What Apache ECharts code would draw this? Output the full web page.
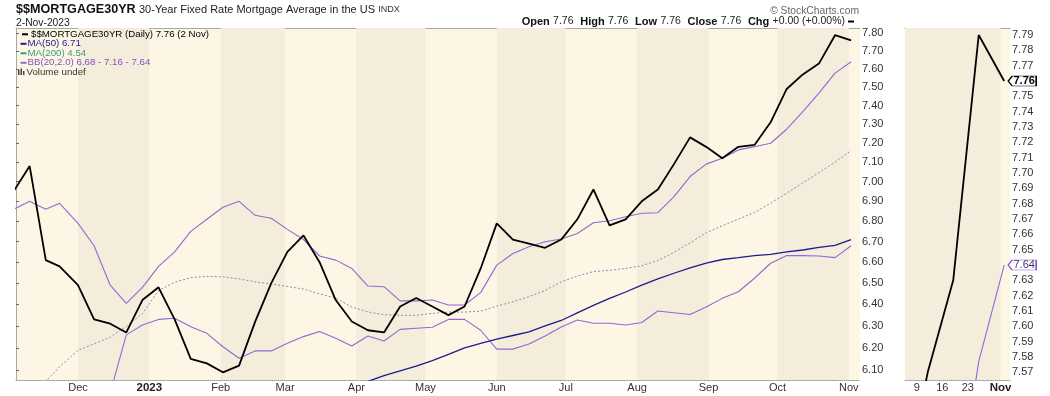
<!DOCTYPE html>
<html><head><meta charset="utf-8">
<script src="https://cdn.jsdelivr.net/npm/echarts@6/dist/echarts.min.js"></script>
<style>html,body{margin:0;padding:0;background:#fff}#c{width:1050px;height:396px}</style>
</head><body><div id="c"></div>
<script>
// ---------- data (weekly readings) ----------
const dates = ['2022-11-03','2022-11-10','2022-11-17','2022-11-23','2022-12-01','2022-12-08','2022-12-15','2022-12-22','2022-12-29',
 '2023-01-05','2023-01-12','2023-01-19','2023-01-26','2023-02-02','2023-02-09','2023-02-16','2023-02-23',
 '2023-03-02','2023-03-09','2023-03-16','2023-03-23','2023-03-30','2023-04-06','2023-04-13','2023-04-20','2023-04-27',
 '2023-05-04','2023-05-11','2023-05-18','2023-05-25','2023-06-01','2023-06-08','2023-06-15','2023-06-22','2023-06-29',
 '2023-07-06','2023-07-13','2023-07-20','2023-07-27','2023-08-03','2023-08-10','2023-08-17','2023-08-24','2023-08-31',
 '2023-09-07','2023-09-14','2023-09-21','2023-09-28','2023-10-05','2023-10-12','2023-10-19','2023-10-26','2023-11-02'];
const close = [6.95,7.08,6.61,6.58,6.49,6.33,6.31,6.27,6.42,
 6.48,6.33,6.15,6.13, 6.09,6.12,6.32,6.50, 6.65,6.73,6.60,6.42,6.32, 6.28,6.27,6.39,6.43,
 6.39,6.35,6.39,6.57, 6.79,6.71,6.69,6.67,6.71, 6.81,6.96,6.78,6.81, 6.90,6.96,7.09,7.23,7.18,
 7.12,7.18,7.19,7.31, 7.49,7.57,7.63,7.79, 7.76];
const ma50 = [null,null,null,null,null,null,null,null,null, null,null,null,null, null,null,null,null, null,null,
 5.96,5.99,6.02, 6.05,6.075,6.097,6.118, 6.142,6.17,6.20,6.22, 6.239,6.256,6.273,6.30,6.325,
 6.36,6.395,6.428,6.458, 6.49,6.52,6.547,6.573,6.596, 6.613,6.622,6.632,6.638, 6.650,6.659,6.672,6.682, 6.71];
const bbUpper = [6.86,6.90,6.86,6.89,6.79,6.68,6.49,6.405,6.48,
 6.58,6.65,6.75,6.81, 6.87,6.90,6.83,6.815, 6.76,6.71,6.63,6.61,6.57, 6.486,6.483,6.416,6.416,
 6.42,6.397,6.397,6.455, 6.586,6.642,6.675,6.699,6.713, 6.74,6.793,6.803,6.823, 6.840,6.843,6.924,7.026,7.090,
 7.120,7.164,7.181,7.199, 7.273,7.367,7.467,7.577, 7.64];
const bbMid = [5.91,5.98,6.05,6.115,6.189,6.218,6.248,6.298,6.357,
 6.465,6.504,6.526,6.532, 6.530,6.520,6.506,6.496, 6.484,6.472,6.449,6.429,6.387, 6.365,6.352,6.349,6.349,
 6.358,6.364,6.364,6.368, 6.392,6.412,6.436,6.465,6.506, 6.534,6.555,6.561,6.570, 6.583,6.608,6.648,6.694,6.743,
 6.778,6.811,6.844,6.891, 6.941,6.994,7.046,7.100, 7.16];
const bbLower = [4.96,5.06,5.24,5.34,5.59,5.75,6.00,6.259,6.304,
 6.330,6.335,6.296,6.266, 6.205,6.153,6.186,6.186, 6.221,6.251,6.274,6.244,6.208, 6.254,6.231,6.284,6.289,
 6.294,6.330,6.330,6.280, 6.194,6.194,6.217,6.254,6.295, 6.327,6.312,6.312,6.304, 6.316,6.369,6.361,6.353,6.388,
 6.428,6.459,6.523,6.595, 6.632,6.632,6.630,6.622, 6.68];
const ma200Last = 4.54;
const mainYTicks = [6.10,6.20,6.30,6.40,6.50,6.60,6.70,6.80,6.90,7.00,7.10,7.20,7.30,7.40,7.50,7.60,7.70,7.80];
const insetYTicks = [7.57,7.58,7.59,7.60,7.61,7.62,7.63,7.64,7.65,7.66,7.67,7.68,7.69,7.70,7.71,7.72,7.73,7.74,7.75,7.76,7.77,7.78,7.79];
const mainMonthTicks = ['2022-12-01','2023-01-01','2023-02-01','2023-03-01','2023-04-01','2023-05-01','2023-06-01',
 '2023-07-01','2023-08-01','2023-09-01','2023-10-01','2023-11-01'];
const insetXTicks = ['2023-10-09','2023-10-16','2023-10-23','2023-11-01'];
const darkBands = [['2022-12-01','2023-01-01'],['2023-02-01','2023-03-01'],['2023-04-01','2023-05-01'],
 ['2023-06-01','2023-07-01'],['2023-08-01','2023-09-01'],['2023-10-01','2023-11-01']];
const monthNames = ['Jan','Feb','Mar','Apr','May','Jun','Jul','Aug','Sep','Oct','Nov','Dec'];

// ---------- helpers ----------
const ts = s => { const p = s.split('-').map(Number); return new Date(p[0], p[1]-1, p[2]).getTime(); };
const DAY = 864e5;
const lnSeries = arr => dates.map((d,i) => [ts(d), arr[i]]).filter(p => p[1] != null).map(p => [p[0], Math.log(p[1])]);
const rawSeries = arr => dates.map((d,i) => [ts(d), arr[i]]).filter(p => p[1] != null);
const last = a => a[a.length-1];

const FONT = 'Liberation Sans, Arial, sans-serif';
const LIGHT = '#FDF6E4', DARK = '#F4EDDC';
const C_CLOSE = '#000000', C_MA50 = '#1c1c8e', C_MA200 = '#3a9a88', C_BB = '#9468d4', C_MID = '#9a80b4';

function bandItem(params, api) {
  const cs = params.coordSys;
  const x0 = api.coord([api.value(0), 0])[0];
  const x1 = api.coord([api.value(1), 0])[0];
  const r = echarts.graphic.clipRectByRect(
    {x: x0, y: cs.y, width: x1 - x0, height: cs.height},
    {x: cs.x, y: cs.y, width: cs.width, height: cs.height});
  return r && {type: 'rect', shape: r, style: {fill: DARK}};
}

const chart = echarts.init(document.getElementById('c'), null, {renderer: 'canvas'});
const d0 = ts('2022-12-01');
const dEnd = ts('2023-11-02');

const axisLabelBase = {color: '#333', fontSize: 11, fontFamily: FONT};

const option = {
  animation: false,
  backgroundColor: '#fff',
  grid: [
    {left: 16, right: 190, top: 28, bottom: 16, show: true, backgroundColor: LIGHT, borderWidth: 0},
    {left: 905, right: 40, top: 28, bottom: 16, show: true, backgroundColor: LIGHT, borderWidth: 0}
  ],
  xAxis: [
    {type: 'value', gridIndex: 0, min: d0 - 26.94*DAY, max: d0 + 339.85*DAY, scale: true,
     axisLine: {lineStyle: {color: '#999', type: 'dotted'}}, axisTick: {show: false}, splitLine: {show: false},
     axisLabel: Object.assign({}, axisLabelBase, {margin: 2, hideOverlap: false,
       customValues: mainMonthTicks.map(ts),
       formatter: v => { const d = new Date(v); return d.getMonth() === 0 ? '{y|' + d.getFullYear() + '}' : monthNames[d.getMonth()]; },
       rich: {y: {fontWeight: 'bold', fontSize: 11.5, color: '#222', fontFamily: FONT}}})},
    {type: 'value', gridIndex: 1, min: dEnd - 27.25*DAY, max: dEnd + 1.6*DAY, scale: true,
     axisLine: {lineStyle: {color: '#999', type: 'dotted'}}, axisTick: {show: false}, splitLine: {show: false},
     axisLabel: Object.assign({}, axisLabelBase, {margin: 2, hideOverlap: false,
       customValues: insetXTicks.map(ts),
       formatter: v => { const d = new Date(v); return d.getDate() === 1 ? '{m|' + monthNames[d.getMonth()] + '}' : String(d.getDate()); },
       rich: {m: {fontWeight: 'bold', fontSize: 11.5, color: '#222', fontFamily: FONT}}})},
    {type: 'value', gridIndex: 0, position: 'top', min: 0, max: 1, axisLine: {show: true, lineStyle: {color: '#a8a8a8'}},
     axisTick: {show: false}, axisLabel: {show: false}, splitLine: {show: false}},
    {type: 'value', gridIndex: 1, position: 'top', min: 0, max: 1, axisLine: {show: true, lineStyle: {color: '#a8a8a8'}},
     axisTick: {show: false}, axisLabel: {show: false}, splitLine: {show: false}}
  ],
  yAxis: [
    {type: 'value', gridIndex: 0, position: 'right', min: Math.log(6.056), max: Math.log(7.831), scale: true,
     axisLine: {show: true, lineStyle: {color: '#999', type: 'dotted'}},
     axisTick: {show: true, length: 3, lineStyle: {color: '#666'}, customValues: mainYTicks.map(Math.log)},
     splitLine: {show: false},
     axisLabel: Object.assign({}, axisLabelBase, {margin: 2, customValues: mainYTicks.map(Math.log),
       formatter: v => Math.exp(v).toFixed(2)})},
    {type: 'value', gridIndex: 1, position: 'right', min: 7.565, max: 7.7946, scale: true,
     axisLine: {show: true, lineStyle: {color: '#999', type: 'dotted'}},
     axisTick: {show: true, length: 3, lineStyle: {color: '#666'}, customValues: insetYTicks},
     splitLine: {show: false},
     axisLabel: Object.assign({}, axisLabelBase, {margin: 2, customValues: insetYTicks,
       formatter: v => v.toFixed(2)})},
    {type: 'value', gridIndex: 0, position: 'left', min: 0, max: 1, axisLine: {show: true, lineStyle: {color: '#a8a8a8'}},
     axisTick: {show: false}, axisLabel: {show: false}, splitLine: {show: false}},
    {type: 'value', gridIndex: 1, position: 'left', min: 0, max: 1, axisLine: {show: true, lineStyle: {color: '#a8a8a8'}},
     axisTick: {show: false}, axisLabel: {show: false}, splitLine: {show: false}}
  ],
  series: [
    {type: 'custom', xAxisIndex: 0, yAxisIndex: 0, z: 1, silent: true, renderItem: bandItem,
     encode: {x: [0, 1]}, data: darkBands.map(b => [ts(b[0]), ts(b[1])])},
    {type: 'custom', xAxisIndex: 1, yAxisIndex: 1, z: 1, silent: true, renderItem: bandItem,
     encode: {x: [0, 1]}, data: darkBands.map(b => [ts(b[0]), ts(b[1])])},
    {name: 'BB mid', type: 'line', xAxisIndex: 0, yAxisIndex: 0, z: 3, symbol: 'none', clip: true,
     lineStyle: {color: C_MID, width: 1, type: [2, 2]}, data: lnSeries(bbMid)},
    {name: 'BB upper', type: 'line', xAxisIndex: 0, yAxisIndex: 0, z: 3, symbol: 'none', clip: true,
     lineStyle: {color: C_BB, width: 1.1}, data: lnSeries(bbUpper)},
    {name: 'BB lower', type: 'line', xAxisIndex: 0, yAxisIndex: 0, z: 3, symbol: 'none', clip: true,
     lineStyle: {color: C_BB, width: 1.1}, data: lnSeries(bbLower)},
    {name: 'MA50', type: 'line', xAxisIndex: 0, yAxisIndex: 0, z: 4, symbol: 'none', clip: true,
     lineStyle: {color: C_MA50, width: 1.3}, data: lnSeries(ma50)},
    {name: 'Close', type: 'line', xAxisIndex: 0, yAxisIndex: 0, z: 5, symbol: 'none', clip: true,
     lineStyle: {color: C_CLOSE, width: 1.8}, data: lnSeries(close)},
    {name: 'BB upper inset', type: 'line', xAxisIndex: 1, yAxisIndex: 1, z: 3, symbol: 'none', clip: true,
     lineStyle: {color: C_BB, width: 1.1}, data: rawSeries(bbUpper),
     markPoint: {symbol: 'path://M0,5 L4,0 L28,0 L28,10 L4,10 Z', symbolSize: [28, 10], symbolOffset: [18, 0], z: 10,
       itemStyle: {color: '#fff', borderColor: '#8a55c0', borderWidth: 1},
       label: {show: true, position: 'inside', offset: [2, 0], color: '#4a2f78', fontSize: 11, fontFamily: FONT,
         formatter: () => last(bbUpper).toFixed(2)},
       data: [{coord: [ts(last(dates)), last(bbUpper)]}]}},
    {name: 'Close inset', type: 'line', xAxisIndex: 1, yAxisIndex: 1, z: 5, symbol: 'none', clip: true,
     lineStyle: {color: C_CLOSE, width: 1.8}, data: rawSeries(close),
     markPoint: {symbol: 'path://M0,5 L4,0 L28,0 L28,10 L4,10 Z', symbolSize: [28, 10], symbolOffset: [18, 0], z: 10,
       itemStyle: {color: '#fff', borderColor: '#000', borderWidth: 1},
       label: {show: true, position: 'inside', offset: [2, 0], color: '#000', fontSize: 11, fontWeight: 'bold', fontFamily: FONT,
         formatter: () => last(close).toFixed(2)},
       data: [{coord: [ts(last(dates)), last(close)]}]}}
  ],
  graphic: [
    {type: 'text', z: 20, style: {x: 16, y: 10, textVerticalAlign: 'middle',
      text: '{b|$$MORTGAGE30YR} {n|30-Year Fixed Rate Mortgage Average in the US} {s|INDX}',
      rich: {b: {fontSize: 12.6, fontWeight: 'bold', fontFamily: FONT, fill: '#111'},
             n: {fontSize: 11, fontFamily: FONT, fill: '#222'},
             s: {fontSize: 9, fontFamily: FONT, fill: '#333'}}}},
    {type: 'text', z: 20, style: {x: 16, y: 23, textVerticalAlign: 'middle', text: '2-Nov-2023',
      fontSize: 10.3, fontFamily: FONT, fill: '#222'}},
    {type: 'text', z: 20, style: {x: 859, y: 11.5, textAlign: 'right', textVerticalAlign: 'middle', text: '\u00A9 StockCharts.com',
      fontSize: 10.3, fontFamily: FONT, fill: '#666'}},
    {type: 'text', z: 20, style: {x: 845, y: 21.5, textAlign: 'right', textVerticalAlign: 'middle',
      text: '{b|Open} {n|' + last(close).toFixed(2) + '}  {b|High} {n|' + last(close).toFixed(2) + '}  {b|Low} {n|' + last(close).toFixed(2) +
            '}  {b|Close} {n|' + last(close).toFixed(2) + '}  {b|Chg} {n|+0.00 (+0.00%)}',
      rich: {b: {fontSize: 11, fontWeight: 'bold', fontFamily: FONT, fill: '#111'},
             n: {fontSize: 10.5, fontFamily: FONT, fill: '#222'}}}},
    {type: 'rect', z: 20, shape: {x: 848, y: 20.5, width: 6, height: 2}, style: {fill: '#000'}},
    // legend
    {type: 'rect', z: 20, shape: {x: 22, y: 33.3, width: 6, height: 2}, style: {fill: C_CLOSE}},
    {type: 'text', z: 20, style: {x: 31, y: 34.3, textVerticalAlign: 'middle', fontSize: 9.7, fontFamily: FONT, fill: '#000',
      text: '$$MORTGAGE30YR (Daily) ' + last(close).toFixed(2) + ' (2 Nov)'}},
    {type: 'rect', z: 20, shape: {x: 20.5, y: 42.8, width: 6, height: 2}, style: {fill: C_MA50}},
    {type: 'text', z: 20, style: {x: 27.5, y: 43.8, textVerticalAlign: 'middle', fontSize: 9.7, fontFamily: FONT, fill: C_MA50,
      text: 'MA(50) ' + last(ma50).toFixed(2)}},
    {type: 'rect', z: 20, shape: {x: 20.5, y: 52.3, width: 6, height: 2}, style: {fill: C_MA200}},
    {type: 'text', z: 20, style: {x: 27.5, y: 53.3, textVerticalAlign: 'middle', fontSize: 9.7, fontFamily: FONT, fill: C_MA200,
      text: 'MA(200) ' + ma200Last.toFixed(2)}},
    {type: 'rect', z: 20, shape: {x: 20.5, y: 61.8, width: 6, height: 2}, style: {fill: C_BB}},
    {type: 'text', z: 20, style: {x: 27.5, y: 62.8, textVerticalAlign: 'middle', fontSize: 9.7, fontFamily: FONT, fill: '#8a4fc4',
      text: 'BB(20,2.0) ' + last(bbLower).toFixed(2) + ' - ' + last(bbMid).toFixed(2) + ' - ' + last(bbUpper).toFixed(2)}},
    {type: 'rect', z: 20, shape: {x: 18, y: 70, width: 1.5, height: 5}, style: {fill: '#444'}},
    {type: 'rect', z: 20, shape: {x: 20.5, y: 68.5, width: 1.5, height: 6.5}, style: {fill: '#444'}},
    {type: 'rect', z: 20, shape: {x: 23, y: 71, width: 1.5, height: 4}, style: {fill: '#444'}},
    {type: 'text', z: 20, style: {x: 26.5, y: 72.5, textVerticalAlign: 'middle', fontSize: 9.7, fontFamily: FONT, fill: '#333',
      text: 'Volume undef'}}
  ]
};
chart.setOption(option);
</script>
</body></html>
